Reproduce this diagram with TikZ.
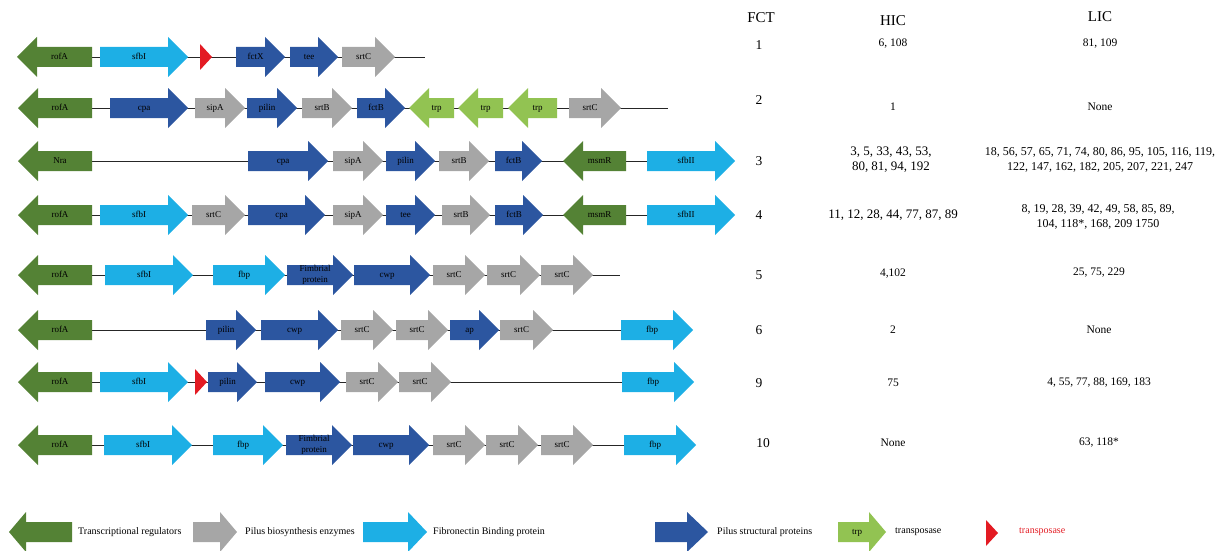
\documentclass[tikz,border=0pt]{standalone}
\usepackage{fontspec}
\setmainfont{Liberation Serif}
\pgfdeclarelayer{bg}
\pgfsetlayers{bg,main}
\definecolor{cGreen}{HTML}{548235}
\definecolor{cCyan}{HTML}{1DAFE5}
\definecolor{cBlue}{HTML}{2C56A0}
\definecolor{cGray}{HTML}{A6A6A6}
\definecolor{cLight}{HTML}{92C352}
\definecolor{cRed}{HTML}{E31B23}
\tikzset{
  geneshape/.style={inner sep=0pt, minimum height=40pt},
  genetext/.style={inner sep=0pt, text height=6.5pt, text depth=1pt, font=\fontsize{9}{11.5}\selectfont},
  genetexttwo/.style={inner sep=0pt, align=center, font=\fontsize{9}{11.5}\selectfont},
  backbone/.style={draw=black!85, line width=0.8pt},
  hdr/.style={inner sep=0pt, font=\fontsize{15}{18}\selectfont},
  fctnum/.style={inner sep=0pt, font=\fontsize{13.5}{16}\selectfont},
  val/.style={inner sep=0pt, align=center, font=\fontsize{11.5}{15}\selectfont},
  valH/.style={inner sep=0pt, align=center, font=\fontsize{13}{15}\selectfont},
  valL/.style={inner sep=0pt, align=center, font=\fontsize{12}{15}\selectfont},
  legtext/.style={inner sep=0pt, anchor=west, font=\fontsize{10}{12}\selectfont},
}
% right-pointing gene: [head]{name}{xs}{xe}{y}{colour}{label}
\newcommand{\geneR}[7][20]{%
  \fill[#6] (#3,{#5-10}) -- ({#4-#1},{#5-10}) -- ({#4-#1},{#5-20}) -- (#4,#5)
    -- ({#4-#1},{#5+20}) -- ({#4-#1},{#5+10}) -- (#3,{#5+10}) -- cycle;
  \node[geneshape, minimum width={(#4-#3)*1pt}] (#2) at ({(#3+#4)/2},#5) {};
  \node[genetext] (#2-t) at ({(#3+#4)/2-5},#5) {#7};
}
% left-pointing gene
\newcommand{\geneL}[7][20]{%
  \fill[#6] (#3,#5) -- ({#3+#1},{#5-20}) -- ({#3+#1},{#5-10}) -- (#4,{#5-10})
    -- (#4,{#5+10}) -- ({#3+#1},{#5+10}) -- ({#3+#1},{#5+20}) -- cycle;
  \node[geneshape, minimum width={(#4-#3)*1pt}] (#2) at ({(#3+#4)/2},#5) {};
  \node[genetext] (#2-t) at ({(#3+#4)/2+5},#5) {#7};
}
% transposase triangle: {name}{xs}{xe}{y}
\newcommand{\tnp}[4]{%
  \fill[cRed] (#2,{#4-13}) -- (#3,#4) -- (#2,{#4+13}) -- cycle;
  \node[inner sep=0pt, minimum width={(#3-#2)*1pt}, minimum height=26pt] (#1) at ({(#2+#3)/2},#4) {};
}
\begin{document}
\begin{tikzpicture}[x=1pt,y=-1pt]
\useasboundingbox (0,0) rectangle (1218,551);

% ---------- Row 1 (FCT 1)
\geneL{a1}{17}{92}{57}{cGreen}{rofA}
\geneR{a2}{100}{188}{57}{cCyan}{sfbI}
\tnp{a3}{200}{212}{57}
\geneR{a4}{236}{285}{57}{cBlue}{fctX}
\geneR{a5}{290}{338}{57}{cBlue}{tee}
\geneR{a6}{342}{395}{57}{cGray}{srtC}
\coordinate (aend) at (425,57);

% ---------- Row 2 (FCT 2)
\geneL{b1}{18}{92}{108}{cGreen}{rofA}
\geneR{b2}{110}{188}{108}{cBlue}{cpa}
\geneR{b3}{195}{245}{108}{cGray}{sipA}
\geneR{b4}{247}{297}{108}{cBlue}{pilin}
\geneR{b5}{302}{352}{108}{cGray}{srtB}
\geneR{b6}{357}{405}{108}{cBlue}{fctB}
\geneL{b7}{409}{454}{108}{cLight}{trp}
\geneL{b8}{458}{503}{108}{cLight}{trp}
\geneL{b9}{508}{557}{108}{cLight}{trp}
\geneR{b10}{569}{621}{108}{cGray}{srtC}
\coordinate (bend) at (668,108);

% ---------- Row 3 (FCT 3)
\geneL{c1}{18}{92}{161}{cGreen}{Nra}
\geneR{c2}{248}{328}{161}{cBlue}{cpa}
\geneR{c3}{333}{383}{161}{cGray}{sipA}
\geneR{c4}{386}{435}{161}{cBlue}{pilin}
\geneR{c5}{439}{489}{161}{cGray}{srtB}
\geneR{c6}{495}{542}{161}{cBlue}{fctB}
\geneL{c7}{563}{626}{161}{cGreen}{msmR}
\geneR{c8}{647}{735}{161}{cCyan}{sfbII}

% ---------- Row 4 (FCT 4)
\geneL{d1}{18}{92}{215}{cGreen}{rofA}
\geneR{d2}{100}{188}{215}{cCyan}{sfbI}
\geneR{d3}{192}{245}{215}{cGray}{srtC}
\geneR{d4}{248}{325}{215}{cBlue}{cpa}
\geneR{d5}{333}{383}{215}{cGray}{sipA}
\geneR{d6}{386}{435}{215}{cBlue}{tee}
\geneR{d7}{442}{490}{215}{cGray}{srtB}
\geneR{d8}{495}{543}{215}{cBlue}{fctB}
\geneL{d9}{563}{626}{215}{cGreen}{msmR}
\geneR{d10}{647}{735}{215}{cCyan}{sfbII}

% ---------- Row 5 (FCT 5)
\geneL{e1}{18}{92}{275}{cGreen}{rofA}
\geneR{e2}{105}{193}{275}{cCyan}{sfbI}
\geneR{e3}{213}{285}{275}{cCyan}{fbp}
\geneR{e4}{287}{353}{275}{cBlue}{}
\node[genetexttwo] (e4-l) at (315,275) {Fimbrial\\protein};
\geneR{e5}{354}{430}{275}{cBlue}{cwp}
\geneR{e6}{433}{485}{275}{cGray}{srtC}
\geneR{e7}{487}{540}{275}{cGray}{srtC}
\geneR{e8}{541}{593}{275}{cGray}{srtC}
\coordinate (eend) at (620,275);

% ---------- Row 6 (FCT 6)
\geneL{f1}{18}{92}{330}{cGreen}{rofA}
\geneR{f2}{206}{256}{330}{cBlue}{pilin}
\geneR{f3}{261}{338}{330}{cBlue}{cwp}
\geneR{f4}{341}{393}{330}{cGray}{srtC}
\geneR{f5}{396}{448}{330}{cGray}{srtC}
\geneR{f6}{450}{499}{330}{cBlue}{ap}
\geneR{f7}{500}{553}{330}{cGray}{srtC}
\geneR{f8}{621}{693}{330}{cCyan}{fbp}

% ---------- Row 7 (FCT 9)
\geneL{g1}{18}{92}{382}{cGreen}{rofA}
\geneR{g2}{100}{188}{382}{cCyan}{sfbI}
\tnp{g3}{195}{207}{382}
\geneR{g4}{208}{257}{382}{cBlue}{pilin}
\geneR{g5}{265}{340}{382}{cBlue}{cwp}
\geneR{g6}{346}{398}{382}{cGray}{srtC}
\geneR{g7}{399}{451}{382}{cGray}{srtC}
\geneR{g8}{622}{694}{382}{cCyan}{fbp}

% ---------- Row 8 (FCT 10)
\geneL{h1}{18}{92}{445}{cGreen}{rofA}
\geneR{h2}{104}{192}{445}{cCyan}{sfbI}
\geneR{h3}{213}{283}{445}{cCyan}{fbp}
\geneR{h4}{286}{352}{445}{cBlue}{}
\node[genetexttwo] (h4-l) at (314,445) {Fimbrial\\protein};
\geneR{h5}{353}{429}{445}{cBlue}{cwp}
\geneR{h6}{433}{485}{445}{cGray}{srtC}
\geneR{h7}{486}{538}{445}{cGray}{srtC}
\geneR{h8}{541}{593}{445}{cGray}{srtC}
\geneR{h9}{624}{696}{445}{cCyan}{fbp}

% ---------- backbones
\begin{pgfonlayer}{bg}
\draw[backbone] (a1.center) -- (aend);
\draw[backbone] (b1.center) -- (bend);
\draw[backbone] (c1.center) -- (c8.center);
\draw[backbone] (d1.center) -- (d10.center);
\draw[backbone] (e1.center) -- (eend);
\draw[backbone] (f1.center) -- (f8.center);
\draw[backbone] (g1.center) -- (g8.center);
\draw[backbone] (h1.center) -- (h9.center);
\end{pgfonlayer}

% ---------- table
\node[hdr] (tF) at (761,18) {FCT};
\node[hdr] (tH) at (893,21) {HIC};
\node[hdr] (tL) at (1100,17) {LIC};

\node[fctnum] (n1) at (759,45) {1};
\node[val] (h1v) at (893,44) {6, 108};
\node[val] (l1v) at (1100,44) {81, 109};

\node[fctnum] (n2) at (759,100) {2};
\node[val] (h2v) at (893,107) {1};
\node[val] (l2v) at (1100,107) {None};

\node[fctnum] (n3) at (759,161) {3};
\node[valH] (h3v) at (891,160) {3, 5, 33, 43, 53,\\80, 81, 94, 192};
\node[valL] (l3v) at (1100,160) {18, 56, 57, 65, 71, 74, 80, 86, 95, 105, 116, 119,\\122, 147, 162, 182, 205, 207, 221, 247};

\node[fctnum] (n4) at (759,215) {4};
\node[valH] (h4v) at (893,215) {11, 12, 28, 44, 77, 87, 89};
\node[valL] (l4v) at (1098,217) {8, 19, 28, 39, 42, 49, 58, 85, 89,\\104, 118*, 168, 209 1750};

\node[fctnum] (n5) at (759,275) {5};
\node[val] (h5v) at (893,274) {4,102};
\node[val] (l5v) at (1099,273) {25, 75, 229};

\node[fctnum] (n6) at (759,330) {6};
\node[val] (h6v) at (893,330) {2};
\node[val] (l6v) at (1099,330) {None};

\node[fctnum] (n9) at (759,383) {9};
\node[val] (h9v) at (893,383) {75};
\node[val] (l9v) at (1099,383) {4, 55, 77, 88, 169, 183};

\node[fctnum] (n10) at (763,443) {10};
\node[val] (h10v) at (893,443) {None};
\node[val] (l10v) at (1099,443) {63, 118*};

% ---------- legend
\geneL[17]{k1}{9}{72}{532}{cGreen}{}
\node[legtext] (k1t) at (78,532) {Transcriptional regulators};
\geneR[17]{k2}{193}{237}{532}{cGray}{}
\node[legtext] (k2t) at (245,532) {Pilus biosynthesis enzymes};
\geneR[19]{k3}{363}{427}{532}{cCyan}{}
\node[legtext] (k3t) at (433,532) {Fibronectin Binding protein};
\geneR[21]{k4}{655}{708}{532}{cBlue}{}
\node[legtext] (k4t) at (717,532) {Pilus structural proteins};
\geneR[17]{k5}{838}{886}{532}{cLight}{trp}
\node[legtext] (k5t) at (895,532) {transposase};
\tnp{k6}{986}{998}{533}
\node[legtext, text=cRed] (k6t) at (1019,532) {transposase};
\end{tikzpicture}
\end{document}
